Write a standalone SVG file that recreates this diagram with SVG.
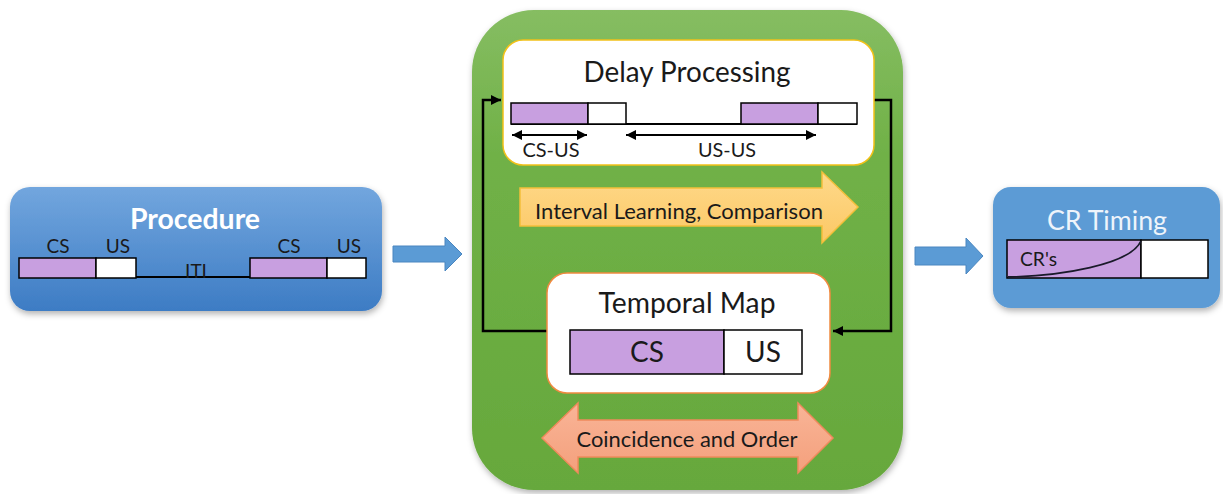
<svg xmlns="http://www.w3.org/2000/svg" width="1223" height="494" viewBox="0 0 1223 494">
  <defs>
    <linearGradient id="gBlue" x1="0" y1="0" x2="0" y2="1">
      <stop offset="0" stop-color="#72a6de"/>
      <stop offset="1" stop-color="#3d7cc4"/>
    </linearGradient>
    <linearGradient id="gGreen" x1="0" y1="0" x2="0" y2="1">
      <stop offset="0" stop-color="#86bd62"/>
      <stop offset="0.3" stop-color="#70b147"/>
      <stop offset="1" stop-color="#66a83c"/>
    </linearGradient>
    <linearGradient id="gGold" x1="0" y1="0" x2="0" y2="1">
      <stop offset="0" stop-color="#fed98a"/>
      <stop offset="1" stop-color="#fcc865"/>
    </linearGradient>
    <linearGradient id="gSalmon" x1="0" y1="0" x2="0" y2="1">
      <stop offset="0" stop-color="#f9b497"/>
      <stop offset="1" stop-color="#f4a07c"/>
    </linearGradient>
    <filter id="shadow" x="-10%" y="-10%" width="120%" height="130%">
      <feDropShadow dx="1" dy="3" stdDeviation="3" flood-color="#000" flood-opacity="0.3"/>
    </filter>
    <marker id="tip" viewBox="0 0 10 10" refX="10" refY="5" markerWidth="10" markerHeight="10" markerUnits="userSpaceOnUse" orient="auto-start-reverse">
      <path d="M0,0 L10,5 L0,10 z" fill="#000"/>
    </marker>
  </defs>
  <style>
    text { font-family: Lato, "Open Sans", "Liberation Sans", sans-serif; fill: #1a1a1a; }
    .title { font-size: 28px; text-anchor: middle; }
    .lbl { font-size: 21px; text-anchor: middle; }
    .small { font-size: 19px; text-anchor: middle; }
    .cs { fill: #c89fe0; stroke: #000; stroke-width: 1.5; }
    .us { fill: #fff; stroke: #000; stroke-width: 1.5; }
    .base { stroke: #000; stroke-width: 2; fill: none; }
    .wire { stroke: #000; stroke-width: 2.5; fill: none; }
    .dim { stroke: #000; stroke-width: 2; fill: none; }
    .flow { fill: #5b9bd5; stroke: #4a86c0; stroke-width: 1; }
  </style>

  <rect width="1223" height="494" fill="#fff"/>

  <!-- Procedure -->
  <g id="procedure">
    <rect x="10" y="187" width="372" height="124" rx="20" fill="url(#gBlue)" filter="url(#shadow)"/>
    <text x="195" y="229" textLength="130" lengthAdjust="spacingAndGlyphs" style="font-size:29px;font-weight:bold;fill:#fff;text-anchor:middle">Procedure</text>
    <line class="base" x1="19" y1="277" x2="366" y2="277"/>
    <rect class="cs" x="19" y="258" width="77" height="20"/>
    <rect class="us" x="96" y="258" width="40" height="20"/>
    <rect class="cs" x="250" y="258" width="77" height="20"/>
    <rect class="us" x="327" y="258" width="39" height="20"/>
    <text class="small" x="58" y="253">CS</text>
    <text class="small" x="118" y="253">US</text>
    <text class="small" x="196" y="278">ITI</text>
    <text class="small" x="289" y="253">CS</text>
    <text class="small" x="349" y="253">US</text>
  </g>

  <!-- Flow arrows between stages -->
  <g id="flow-arrows">
    <path class="flow" d="M393,246 H445 V237 L462,254 L445,271 V262 H393 z"/>
    <path class="flow" d="M915,247 H966 V238 L983,256 L966,274 V265 H915 z"/>
  </g>

  <!-- Central processing block -->
  <g id="processing">
    <rect x="472" y="10" width="431" height="480" rx="62" fill="url(#gGreen)" filter="url(#shadow)"/>
  </g>

  <!-- Feedback loop connectors -->
  <g id="connectors">
    <path class="wire" d="M547,331 H483 V100 H501" marker-end="url(#tip)"/>
    <path class="wire" d="M874,100 H891 V331 H833" marker-end="url(#tip)"/>
  </g>

  <!-- Delay Processing -->
  <g id="delay-processing">
    <rect x="503" y="40" width="371" height="125" rx="20" fill="#fff" stroke="#f2c118" stroke-width="1.5"/>
    <text class="title" x="687" y="82" textLength="207" lengthAdjust="spacingAndGlyphs">Delay Processing</text>
    <line class="base" x1="511" y1="124" x2="857" y2="124"/>
    <rect class="cs" x="511" y="103" width="77" height="21"/>
    <rect class="us" x="588" y="103" width="38" height="21"/>
    <rect class="cs" x="741" y="103" width="77" height="21"/>
    <rect class="us" x="818" y="103" width="39" height="21"/>
    <line class="dim" x1="512" y1="135" x2="587" y2="135" marker-start="url(#tip)" marker-end="url(#tip)"/>
    <line class="dim" x1="626" y1="135" x2="816" y2="135" marker-start="url(#tip)" marker-end="url(#tip)"/>
    <text class="small" x="551" y="157" textLength="57" lengthAdjust="spacingAndGlyphs">CS-US</text>
    <text class="small" x="727" y="157" textLength="58" lengthAdjust="spacingAndGlyphs">US-US</text>
  </g>

  <!-- Interval learning arrow -->
  <g id="interval-learning">
    <path d="M520,188 H822 V172 L858,207 L822,243 V226 H520 z" fill="url(#gGold)" stroke="#f3bf3a" stroke-width="1.5"/>
    <text class="lbl" x="679" y="219" textLength="288" lengthAdjust="spacingAndGlyphs">Interval Learning, Comparison</text>
  </g>

  <!-- Temporal Map -->
  <g id="temporal-map">
    <rect x="547" y="273" width="283" height="120" rx="20" fill="#fff" stroke="#f08a40" stroke-width="1.5"/>
    <text class="title" x="687" y="313" textLength="177" lengthAdjust="spacingAndGlyphs">Temporal Map</text>
    <rect class="cs" x="570" y="330" width="154" height="44"/>
    <rect class="us" x="724" y="330" width="78" height="44"/>
    <text class="title" x="647" y="362">CS</text>
    <text class="title" x="763" y="362">US</text>
  </g>

  <!-- Coincidence and Order arrow -->
  <g id="coincidence">
    <path d="M542,438 L578,403 V420 H798 V403 L833,438 L798,473 V457 H578 V473 z" fill="url(#gSalmon)" stroke="#f08a5c" stroke-width="1.5"/>
    <text class="lbl" x="687" y="447" textLength="221" lengthAdjust="spacingAndGlyphs">Coincidence and Order</text>
  </g>

  <!-- CR Timing -->
  <g id="cr-timing">
    <rect x="993" y="187" width="227" height="121" rx="18" fill="#5b9bd5" filter="url(#shadow)"/>
    <text x="1107" y="230" textLength="120" lengthAdjust="spacingAndGlyphs" style="font-size:27px;fill:#eef4fb;text-anchor:middle">CR Timing</text>
    <rect class="cs" x="1007" y="240" width="134" height="38"/>
    <rect class="us" x="1141" y="240" width="67" height="38"/>
    <path d="M1008,277 C1060,276 1130,265 1141,241" stroke="#1a1a2a" stroke-width="1.8" fill="none"/>
    <text x="1020" y="266" textLength="37" lengthAdjust="spacingAndGlyphs" style="font-size:20px">CR's</text>
  </g>
</svg>
